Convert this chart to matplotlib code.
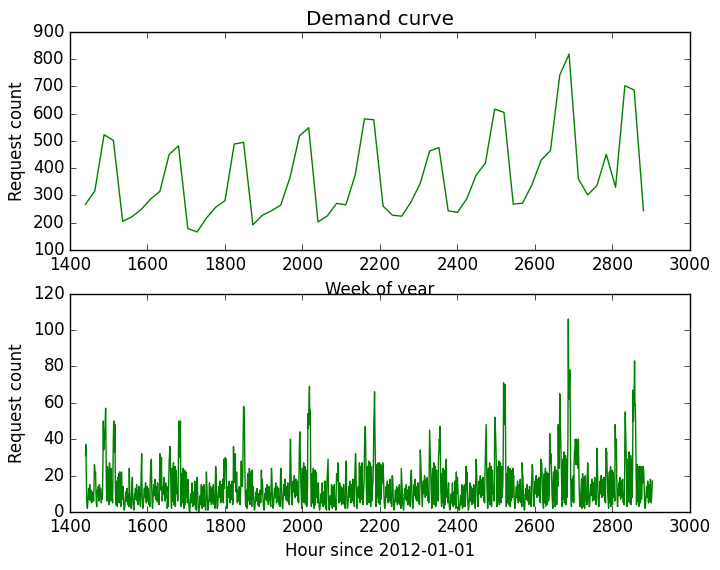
import numpy as np
import matplotlib
matplotlib.use("Agg")
from matplotlib import pyplot as plt

plt.style.use("classic")

# daily request totals, one point per day (hour index of the day start)
day_start = np.arange(1440, 2881, 24)
daily_counts = [268, 316, 523, 502, 205, 222, 249, 287, 315, 451,
                482, 179, 166, 217, 257, 281, 489, 495, 192, 227,
                244, 265, 367, 518, 549, 203, 225, 271, 266, 375,
                581, 578, 261, 228, 224, 276, 345, 463, 476, 244,
                238, 288, 374, 419, 617, 605, 268, 272, 339, 430,
                465, 742, 819, 361, 302, 337, 451, 330, 703, 687,
                244]

# hourly request counts, one row per day
hourly_rows = [
    [31, 37, 22, 8, 3, 2, 5, 9, 13, 7, 11, 15, 9, 6, 12, 10, 5, 8, 11, 7, 9, 6, 14, 26],
    [24, 20, 22, 12, 5, 3, 7, 12, 9, 14, 10, 6, 15, 11, 8, 13, 9, 5, 10, 7, 12, 26, 50, 34],
    [38, 45, 40, 51, 57, 33, 14, 6, 17, 25, 9, 12, 23, 4, 27, 21, 13, 6, 24, 15, 11, 9, 5, 22],
    [42, 50, 46, 33, 48, 15, 6, 4, 11, 17, 3, 19, 16, 12, 21, 5, 22, 14, 20, 3, 9, 22, 12, 7],
    [10, 14, 7, 3, 1, 2, 5, 8, 11, 6, 9, 13, 7, 4, 10, 8, 3, 24, 12, 8, 5, 7, 2, 10],
    [16, 19, 9, 4, 2, 1, 6, 10, 8, 13, 7, 11, 15, 6, 9, 12, 4, 8, 14, 7, 10, 5, 3, 15],
    [24, 32, 11, 5, 2, 3, 7, 10, 13, 8, 12, 16, 9, 5, 11, 14, 6, 9, 13, 7, 4, 8, 3, 17],
    [23, 27, 29, 14, 5, 2, 6, 11, 15, 9, 13, 18, 10, 7, 14, 12, 6, 10, 16, 9, 5, 8, 4, 14],
    [32, 26, 18, 12, 30, 12, 6, 9, 14, 10, 10, 19, 11, 6, 13, 16, 8, 11, 14, 2, 5, 9, 3, 19],
    [28, 32, 36, 29, 17, 8, 2, 19, 24, 6, 21, 27, 4, 13, 17, 25, 3, 17, 23, 15, 10, 13, 6, 11],
    [34, 50, 44, 49, 30, 50, 12, 3, 15, 21, 5, 19, 24, 16, 2, 20, 23, 4, 15, 22, 14, 8, 11, 5],
    [12, 18, 8, 3, 1, 0, 4, 7, 10, 5, 8, 16, 6, 3, 9, 11, 4, 7, 17, 6, 2, 5, 1, 16],
    [19, 13, 6, 2, 0, 1, 3, 6, 9, 4, 7, 15, 5, 2, 8, 14, 3, 6, 15, 5, 3, 7, 1, 12],
    [22, 17, 9, 4, 1, 2, 5, 9, 16, 6, 10, 14, 8, 4, 11, 13, 5, 8, 15, 7, 4, 9, 2, 16],
    [25, 21, 12, 5, 2, 3, 7, 11, 14, 8, 12, 17, 9, 5, 13, 15, 6, 10, 18, 9, 5, 29, 13, 19],
    [27, 30, 24, 29, 4, 2, 6, 10, 14, 8, 13, 17, 9, 5, 12, 15, 7, 10, 17, 8, 4, 7, 36, 16],
    [31, 24, 32, 18, 14, 11, 22, 9, 5, 12, 8, 6, 11, 14, 10, 4, 9, 15, 28, 16, 18, 14, 22, 44],
    [58, 52, 57, 30, 14, 5, 3, 9, 12, 2, 17, 21, 6, 11, 19, 24, 4, 16, 22, 14, 18, 3, 23, 10],
    [7, 14, 9, 3, 1, 2, 5, 8, 11, 6, 9, 13, 7, 4, 10, 8, 3, 6, 12, 8, 5, 7, 23, 10],
    [18, 15, 8, 4, 2, 1, 6, 10, 8, 13, 7, 11, 15, 6, 9, 12, 4, 8, 14, 7, 10, 5, 3, 15],
    [24, 20, 11, 5, 2, 3, 7, 10, 13, 8, 12, 16, 9, 5, 11, 14, 6, 9, 13, 7, 4, 8, 3, 17],
    [24, 22, 14, 6, 3, 2, 6, 11, 15, 9, 13, 18, 10, 7, 14, 12, 6, 10, 16, 9, 5, 8, 4, 14],
    [32, 40, 26, 15, 8, 4, 9, 13, 17, 11, 15, 20, 12, 8, 16, 18, 9, 12, 17, 10, 6, 11, 5, 21],
    [36, 44, 34, 24, 14, 7, 2, 19, 24, 6, 21, 27, 5, 13, 17, 25, 4, 17, 23, 3, 10, 13, 54, 46],
    [52, 60, 69, 48, 56, 30, 12, 3, 15, 21, 5, 19, 24, 16, 2, 20, 23, 4, 15, 22, 20, 8, 11, 5],
    [12, 16, 8, 3, 1, 2, 4, 7, 10, 5, 8, 16, 6, 3, 9, 11, 4, 7, 17, 6, 2, 5, 1, 16],
    [20, 24, 29, 11, 3, 1, 3, 6, 9, 4, 7, 15, 5, 2, 8, 14, 3, 6, 15, 5, 3, 7, 1, 12],
    [21, 17, 19, 20, 27, 6, 5, 9, 16, 6, 10, 14, 8, 4, 11, 13, 5, 8, 15, 7, 4, 9, 2, 16],
    [25, 28, 12, 5, 2, 3, 7, 11, 14, 8, 12, 17, 9, 5, 13, 15, 6, 10, 18, 9, 5, 8, 3, 19],
    [27, 32, 24, 13, 6, 2, 6, 10, 14, 8, 13, 27, 9, 5, 12, 25, 7, 10, 27, 8, 4, 7, 13, 16],
    [36, 40, 47, 38, 24, 11, 4, 21, 25, 7, 22, 28, 5, 14, 24, 27, 3, 18, 25, 6, 11, 14, 17, 26],
    [48, 55, 66, 44, 30, 12, 3, 22, 26, 8, 24, 27, 5, 16, 25, 27, 4, 20, 26, 7, 14, 24, 16, 27],
    [25, 20, 12, 5, 2, 3, 7, 11, 14, 8, 12, 17, 9, 5, 13, 15, 6, 10, 18, 9, 5, 8, 3, 19],
    [20, 18, 9, 4, 1, 2, 5, 9, 12, 6, 10, 14, 8, 4, 11, 13, 5, 8, 15, 7, 4, 9, 2, 24],
    [19, 15, 8, 4, 2, 1, 6, 10, 8, 13, 7, 11, 15, 6, 9, 12, 4, 8, 14, 7, 10, 5, 3, 18],
    [20, 23, 14, 6, 3, 2, 6, 11, 15, 9, 13, 18, 10, 7, 14, 12, 6, 10, 16, 9, 5, 8, 4, 14],
    [34, 29, 22, 14, 6, 3, 8, 13, 17, 10, 15, 20, 12, 8, 16, 18, 9, 12, 19, 11, 6, 11, 5, 22],
    [45, 38, 30, 22, 12, 7, 2, 19, 24, 6, 21, 27, 4, 13, 17, 25, 3, 17, 23, 15, 10, 13, 6, 30],
    [33, 40, 38, 47, 30, 12, 7, 3, 21, 14, 5, 24, 16, 2, 20, 23, 4, 15, 22, 29, 14, 8, 11, 5],
    [12, 16, 8, 3, 1, 2, 4, 7, 10, 5, 8, 16, 6, 3, 9, 11, 4, 7, 17, 6, 2, 22, 10, 16],
    [19, 13, 6, 2, 1, 1, 3, 6, 9, 4, 7, 15, 5, 2, 8, 14, 3, 6, 15, 5, 3, 7, 25, 12],
    [22, 17, 9, 4, 1, 2, 5, 9, 16, 6, 10, 14, 8, 4, 11, 13, 5, 8, 15, 7, 4, 9, 2, 16],
    [29, 25, 18, 9, 4, 3, 8, 13, 17, 10, 15, 20, 12, 8, 16, 18, 9, 12, 19, 11, 6, 11, 5, 22],
    [30, 37, 48, 30, 14, 7, 2, 19, 24, 6, 21, 27, 4, 13, 17, 25, 3, 17, 23, 15, 10, 13, 6, 11],
    [44, 52, 45, 38, 28, 12, 3, 21, 25, 6, 22, 28, 4, 14, 24, 27, 5, 18, 25, 8, 11, 14, 30, 71],
    [55, 62, 48, 70, 40, 14, 3, 16, 21, 5, 20, 25, 4, 12, 21, 24, 3, 16, 23, 6, 9, 12, 8, 24],
    [18, 20, 11, 5, 2, 3, 7, 11, 14, 8, 12, 17, 9, 5, 13, 15, 6, 10, 18, 9, 5, 8, 3, 27],
    [21, 19, 9, 4, 2, 1, 6, 10, 8, 13, 7, 11, 15, 6, 9, 12, 4, 8, 14, 7, 10, 5, 3, 15],
    [21, 26, 24, 13, 6, 3, 8, 13, 17, 10, 15, 20, 12, 8, 16, 18, 9, 12, 19, 11, 6, 11, 5, 29],
    [24, 27, 22, 14, 8, 4, 2, 16, 21, 5, 18, 24, 3, 10, 19, 22, 4, 15, 21, 6, 8, 12, 43, 30],
    [27, 32, 26, 18, 9, 5, 2, 17, 22, 6, 19, 25, 3, 11, 20, 23, 4, 15, 22, 14, 48, 30, 24, 36],
    [65, 52, 44, 33, 20, 12, 3, 24, 29, 7, 27, 33, 5, 17, 28, 31, 4, 22, 29, 8, 25, 40, 106, 70],
    [62, 70, 78, 54, 22, 8, 3, 12, 18, 6, 14, 20, 5, 28, 33, 35, 40, 38, 26, 40, 33, 29, 38, 24],
    [40, 26, 14, 7, 3, 4, 9, 14, 18, 2, 16, 21, 3, 8, 17, 19, 2, 12, 20, 11, 6, 10, 4, 20],
    [27, 22, 13, 6, 3, 3, 8, 12, 15, 9, 13, 18, 10, 6, 14, 16, 7, 11, 19, 10, 6, 9, 4, 22],
    [35, 27, 17, 8, 4, 3, 8, 13, 17, 10, 15, 20, 12, 8, 16, 18, 9, 12, 19, 11, 6, 11, 5, 35],
    [30, 33, 26, 17, 9, 5, 2, 17, 22, 5, 19, 25, 3, 11, 20, 23, 4, 15, 22, 14, 8, 12, 6, 48],
    [36, 30, 40, 18, 8, 3, 7, 12, 16, 9, 14, 19, 11, 7, 15, 17, 8, 11, 18, 10, 5, 10, 4, 12],
    [42, 55, 44, 33, 22, 12, 3, 24, 29, 6, 27, 33, 5, 17, 28, 31, 4, 22, 29, 8, 25, 67, 50, 60],
    [66, 83, 59, 59, 40, 18, 4, 20, 26, 6, 24, 25, 3, 16, 25, 24, 5, 20, 25, 7, 14, 24, 16, 25],
    [24, 20, 12, 5, 2, 3, 7, 11, 14, 8, 12, 17, 9, 5, 13, 15, 6, 10, 18, 9, 5, 8, 13, 17],
]

hourly_counts = np.array(hourly_rows).ravel()
hours = np.arange(1440, 1440 + len(hourly_counts))

fig = plt.figure(figsize=(7.2, 5.7), dpi=100)

ax1 = fig.add_axes([0.0972, 0.5614, 0.8611, 0.3825])
ax1.plot(day_start, daily_counts, color="g")
ax1.set_xlim(1400, 3000)
ax1.set_ylim(100, 900)
ax1.set_title("Demand curve")
ax1.set_xlabel("Week of year")
ax1.set_ylabel("Request count")

ax2 = fig.add_axes([0.0972, 0.1018, 0.8611, 0.3832])
ax2.plot(hours, hourly_counts, color="g")
ax2.set_xlim(1400, 3000)
ax2.set_ylim(0, 120)
ax2.set_xlabel("Hour since 2012-01-01")
ax2.set_ylabel("Request count")

fig.savefig("out.png", dpi=100)
